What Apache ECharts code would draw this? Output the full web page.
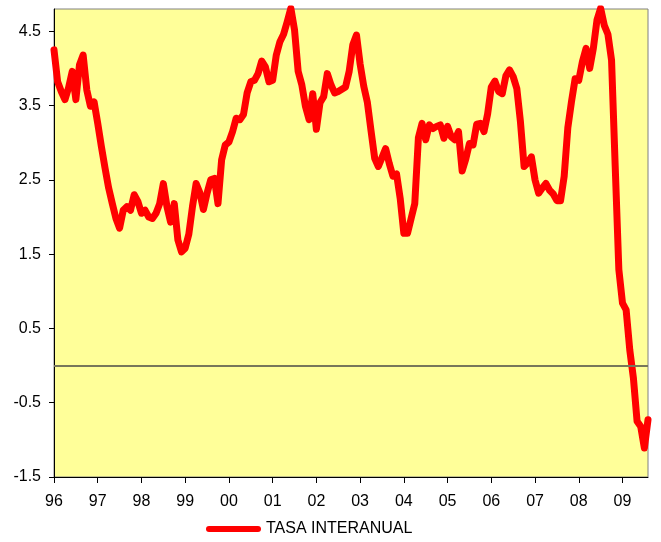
<!DOCTYPE html>
<html>
<head>
<meta charset="utf-8">
<script src="https://cdn.jsdelivr.net/npm/echarts@6/dist/echarts.min.js"></script>
<style>html,body{margin:0;padding:0;background:#fff}#c{width:661px;height:542px}</style>
</head>
<body>
<div id="c"></div>
<script>
// Monthly year-on-year rate (TASA INTERANUAL), Jan 1996 .. Aug 2009
var y1996 = [4.25, 3.82, 3.69, 3.58, 3.74, 3.96, 3.58, 4.05, 4.18, 3.71, 3.49, 3.55];
var y1997 = [3.26, 2.95, 2.66, 2.39, 2.18, 1.98, 1.85, 2.09, 2.14, 2.09, 2.30, 2.21];
var y1998 = [2.05, 2.09, 2.00, 1.98, 2.05, 2.18, 2.45, 2.14, 1.93, 2.18, 1.69, 1.53];
var y1999 = [1.58, 1.77, 2.14, 2.45, 2.33, 2.10, 2.32, 2.50, 2.52, 2.18, 2.77, 2.97];
var y2000 = [3.01, 3.15, 3.33, 3.31, 3.38, 3.67, 3.82, 3.84, 3.93, 4.10, 4.02, 3.82];
var y2001 = [3.84, 4.18, 4.36, 4.46, 4.63, 4.81, 4.52, 3.96, 3.78, 3.49, 3.31, 3.66];
var y2002 = [3.18, 3.54, 3.62, 3.93, 3.78, 3.67, 3.69, 3.72, 3.75, 3.96, 4.32, 4.45];
var y2003 = [4.06, 3.76, 3.54, 3.16, 2.79, 2.68, 2.80, 2.92, 2.72, 2.55, 2.58, 2.25];
var y2004 = [1.78, 1.78, 1.98, 2.18, 3.07, 3.26, 3.04, 3.24, 3.19, 3.22, 3.24, 3.06];
var y2005 = [3.22, 3.08, 3.04, 3.15, 2.62, 2.78, 2.99, 2.97, 3.25, 3.26, 3.15, 3.39];
var y2006 = [3.75, 3.83, 3.69, 3.66, 3.90, 3.98, 3.89, 3.73, 3.28, 2.68, 2.73, 2.81];
var y2007 = [2.50, 2.32, 2.39, 2.45, 2.36, 2.31, 2.22, 2.22, 2.55, 3.20, 3.55, 3.86];
var y2008 = [3.84, 4.09, 4.27, 4.00, 4.27, 4.65, 4.81, 4.58, 4.46, 4.11, 2.68, 1.29];
var y2009 = [0.84, 0.75, 0.21, -0.17, -0.75, -0.82, -1.11, -0.73];

var yearLabels = ['96','97','98','99','00','01','02','03','04','05','06','07','08','09'];
var yTicks = [-1.5, -0.5, 0.5, 1.5, 2.5, 3.5, 4.5];
var seriesName = 'TASA INTERANUAL';

var values = [].concat(y1996, y1997, y1998, y1999, y2000, y2001, y2002, y2003,
                       y2004, y2005, y2006, y2007, y2008, y2009);
var categories = values.map(function (v, i) {
  return yearLabels[Math.floor(i / 12)] + '-' + (i % 12 + 1);
});

var FONT = "'Liberation Sans', Arial, sans-serif";
var chart = echarts.init(document.getElementById('c'), null, {renderer: 'canvas'});
chart.setOption({
  animation: false,
  backgroundColor: '#ffffff',
  grid: {
    left: 54, right: 13, top: 9, bottom: 65,
    show: true, backgroundColor: '#FFFF99', borderColor: '#808080', borderWidth: 1
  },
  legend: {
    data: [seriesName],
    top: 521,
    left: 206,
    padding: 0,
    itemWidth: 55,
    itemHeight: 6,
    icon: 'path://M3,0 L52,0 A3,3 0 0 1 52,6 L3,6 A3,3 0 0 1 3,0 Z',
    textStyle: {fontFamily: FONT, fontSize: 16, color: '#000'}
  },
  xAxis: {
    type: 'category',
    data: categories,
    boundaryGap: false,
    axisLine: {onZero: false, lineStyle: {color: '#000', width: 1}},
    axisTick: {
      show: true, length: 6, lineStyle: {color: '#000'},
      interval: function (i) { return i % 12 === 0; }
    },
    axisLabel: {
      interval: function (i) { return i % 12 === 0; },
      formatter: function (v, i) { return yearLabels[Math.floor(i / 12)]; },
      fontFamily: FONT, fontSize: 16, color: '#000', margin: 17
    },
    splitLine: {show: false}
  },
  yAxis: {
    type: 'value',
    min: -1.5, max: 4.8,
    axisLine: {show: true, onZero: false, lineStyle: {color: '#000', width: 1}},
    axisTick: {show: true, length: 5, lineStyle: {color: '#000'}, customValues: yTicks},
    axisLabel: {
      customValues: yTicks,
      fontFamily: FONT, fontSize: 16, color: '#000', margin: 13,
      formatter: function (v) { return String(v); }
    },
    splitLine: {show: false}
  },
  series: [{
    name: seriesName,
    type: 'line',
    data: values,
    showSymbol: false,
    symbol: 'none',
    smooth: false,
    color: '#FF0000',
    lineStyle: {color: '#FF0000', width: 7, join: 'round', cap: 'round'},
    markLine: {
      silent: true,
      symbol: ['none', 'none'],
      label: {show: false},
      lineStyle: {color: '#77775a', width: 2, type: 'solid'},
      data: [{yAxis: 0}]
    },
    z: 3
  }]
});
</script>
</body>
</html>
